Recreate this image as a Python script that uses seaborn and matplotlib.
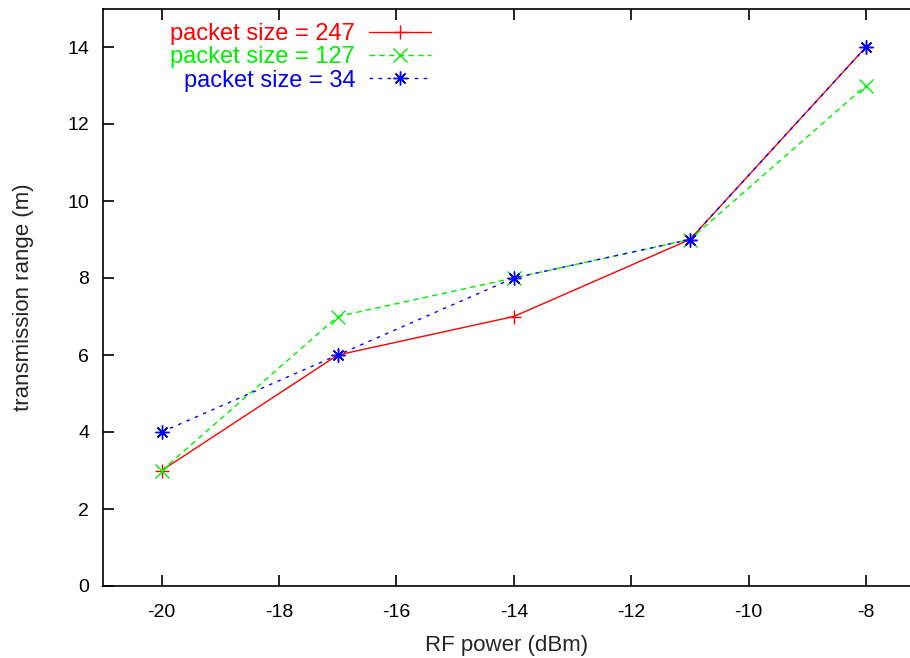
import matplotlib
matplotlib.use("Agg")
import matplotlib.pyplot as plt
import seaborn as sns
import pandas as pd

rf_power = [-20, -17, -14, -11, -8]
range_247 = [3, 6, 7, 9, 14]
range_127 = [3, 7, 8, 9, 13]
range_34 = [4, 6, 8, 9, 14]
labels = ["packet size = 247", "packet size = 127", "packet size = 34"]
x_ticks = [-20, -18, -16, -14, -12, -10, -8]
y_ticks = [0, 2, 4, 6, 8, 10, 12, 14]

sns.set_style("ticks")
plt.rcParams['font.family'] = ['Liberation Sans', 'DejaVu Sans']
plt.rcParams['axes.unicode_minus'] = False

fig = plt.figure(figsize=(9.1, 6.58), dpi=100)
ax = fig.add_axes([103 / 910, 72 / 658, 1 - 103 / 910, (586 - 8.5) / 658])

series = [
    (range_247, "#ff0000", "+", None),
    (range_127, "#00ee00", "x", (0, (4, 3))),
    (range_34, "#0000ff", (8, 2, 0), (0, (2.5, 4))),
]
for (vals, col, mk, dash), lab in zip(series, labels):
    df = pd.DataFrame({"x": rf_power, "y": vals})
    sns.lineplot(data=df, x="x", y="y", color=col, marker=mk, markersize=10,
                 markeredgewidth=1.0, markeredgecolor=col, markerfacecolor=col,
                 linewidth=1.0, label=lab, ax=ax)
    if dash is not None:
        ax.lines[-1].set_linestyle(dash)

ax.set_xlim(-21, -7.25)
ax.set_ylim(0, 15)
ax.set_xticks(x_ticks)
ax.set_yticks(y_ticks)
ax.tick_params(axis="both", direction="in", length=8, width=1.2, labelsize=14,
               top=True, right=False, pad=10, colors="black")
ax.tick_params(axis="x", pad=13)
for s in ["left", "bottom", "top"]:
    ax.spines[s].set_linewidth(1.2)
    ax.spines[s].set_color("black")
ax.spines["right"].set_visible(False)

ax.set_xlabel("RF power (dBm)", fontsize=16, labelpad=10)
ax.set_ylabel("transmission range (m)", fontsize=16, labelpad=24)

leg = ax.legend(loc="upper left", bbox_to_anchor=(0.063, 1.003), frameon=False,
                markerfirst=False, labelcolor="linecolor", fontsize=17,
                handlelength=2.6, handletextpad=0.6, labelspacing=0.05,
                borderpad=0.2)

fig.savefig("out.png", dpi=100)
